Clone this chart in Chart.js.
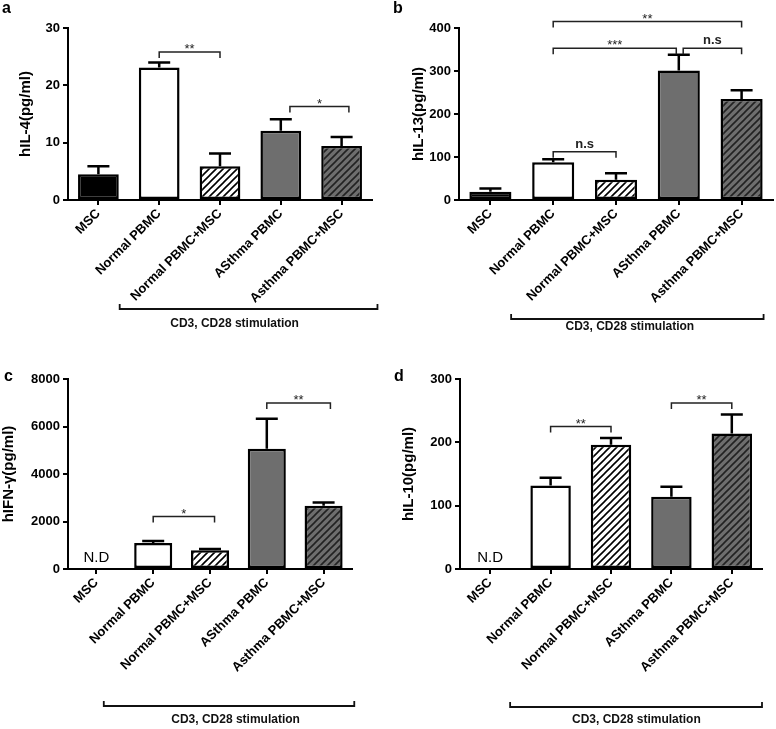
<!DOCTYPE html>
<html>
<head>
<meta charset="utf-8">
<script src="https://cdn.jsdelivr.net/npm/chart.js@4.4.1/dist/chart.umd.min.js"></script>
<style>
  body { margin: 0; background: #fff; width: 776px; height: 729px; position: relative; overflow: hidden; }
  canvas { position: absolute; }
</style>
</head>
<body>
<canvas id="chartA" width="388" height="368" style="left:0;top:0"></canvas>
<canvas id="chartB" width="388" height="368" style="left:388px;top:0"></canvas>
<canvas id="chartC" width="388" height="361" style="left:0;top:368px"></canvas>
<canvas id="chartD" width="388" height="361" style="left:388px;top:368px"></canvas>
<script>
// groups on the x axis
const categories = ['MSC', 'Normal PBMC', 'Normal PBMC+MSC', 'ASthma PBMC', 'Asthma PBMC+MSC'];

// mean values (null = not detected)
const il4Values  = [4.5, 23.1, 5.9, 12.1, 9.4];
const il13Values = [19, 88, 47, 301, 235];
const ifnValues  = [null, 1100, 790, 5060, 2660];
const il10Values = [null, 132, 196, 114, 214];

// upper error (SEM)
const il4Err  = [1.4, 0.9, 2.2, 2.0, 1.6];
const il13Err = [8, 7, 15, 37, 20];
const ifnErr  = [null, 80, 55, 1265, 140];
const il10Err = [null, 12, 11, 16, 30];

// y axis ticks: min, max, step
const il4Ticks  = [0, 30, 10];
const il13Ticks = [0, 400, 100];
const ifnTicks  = [0, 8000, 2000];
const il10Ticks = [0, 300, 100];

// significance brackets: [from group, to group, y value, label]
const il4Sig  = [[1, 2, 25.8, '**'], [3.15, 4.12, 16.3, '*']];
const il13Sig = [[1, 4, 415, '**'], [1, 2.96, 353, '***'], [3.07, 4, 353, 'n.s'], [1, 2, 112, 'n.s']];
const ifnSig  = [[1, 2.08, 2206, '*'], [3, 4.12, 6988, '**']];
const il10Sig = [[1, 2, 225, '**'], [3, 4, 262, '**']];

const FONT = "'Liberation Sans', Arial, sans-serif";
Chart.defaults.font.family = FONT;
Chart.defaults.color = '#000';

function makeHatch(bg, line) {
    const c = document.createElement('canvas');
    c.width = 7; c.height = 7;
    const g = c.getContext('2d');
    g.fillStyle = bg;
    g.fillRect(0, 0, 7, 7);
    g.strokeStyle = line;
    g.lineWidth = 1.6;
    g.beginPath();
    g.moveTo(-1, 8); g.lineTo(8, -1);
    g.moveTo(-1, 1); g.lineTo(1, -1);
    g.moveTo(6, 8); g.lineTo(8, 6);
    g.stroke();
    return g.createPattern(c, 'repeat');
}

const fills = ['#000000', '#ffffff', makeHatch('#ffffff', '#000000'), '#6e6e6e', makeHatch('#6e6e6e', '#222222')];

// draws error bars, brackets, N.D and panel letter
function makeExtras(p) {
    return {
        id: 'extras',
        afterDatasetsDraw(chart) {
            const ctx = chart.ctx;
            const meta = chart.getDatasetMeta(0);
            const y = chart.scales.y;
            const data = chart.data.datasets[0].data;
            ctx.save();
            ctx.strokeStyle = '#000';
            ctx.lineWidth = 2.5;
            p.errors.forEach((e, i) => {
                if (data[i] == null || e == null) return;
                const bar = meta.data[i];
                const top = y.getPixelForValue(data[i] + e);
                ctx.beginPath();
                ctx.moveTo(bar.x, bar.y);
                ctx.lineTo(bar.x, top);
                ctx.moveTo(bar.x - 11, top);
                ctx.lineTo(bar.x + 11, top);
                ctx.stroke();
            });
            ctx.restore();
        },
        afterDraw(chart) {
            const ctx = chart.ctx;
            const x = chart.scales.x;
            const y = chart.scales.y;
            const area = chart.chartArea;
            ctx.save();

            // significance brackets
            ctx.strokeStyle = '#222';
            ctx.lineWidth = 1.5;
            ctx.fillStyle = '#222';
            ctx.textAlign = 'center';
            ctx.textBaseline = 'alphabetic';
            p.sig.forEach(s => {
                const x1 = x.getPixelForValue(s[0]);
                const x2 = x.getPixelForValue(s[1]);
                const py = y.getPixelForValue(s[2]);
                ctx.beginPath();
                ctx.moveTo(x1, py + 6);
                ctx.lineTo(x1, py);
                ctx.lineTo(x2, py);
                ctx.lineTo(x2, py + 6);
                ctx.stroke();
                if (s[3].indexOf('*') >= 0) {
                    ctx.font = '13px ' + FONT;
                    ctx.fillText(s[3], (x1 + x2) / 2, py + 1);
                } else {
                    ctx.font = 'bold 13px ' + FONT;
                    ctx.fillText(s[3], (x1 + x2) / 2, py - 4);
                }
            });

            // stimulation bracket
            const st = p.stim;
            const sx1 = x.getPixelForValue(st.from);
            const sx2 = x.getPixelForValue(st.to);
            const sy = area.bottom + st.dy;
            ctx.strokeStyle = '#111';
            ctx.lineWidth = 1.8;
            ctx.beginPath();
            ctx.moveTo(sx1, sy - 5);
            ctx.lineTo(sx1, sy);
            ctx.lineTo(sx2, sy);
            ctx.lineTo(sx2, sy - 5);
            ctx.stroke();
            ctx.fillStyle = '#111';
            ctx.font = 'bold 12px ' + FONT;
            ctx.textBaseline = 'middle';
            ctx.fillText('CD3, CD28 stimulation', x.getPixelForValue(st.textX), area.bottom + st.textDy);

            // not detected
            if (p.nd) {
                ctx.font = '15px ' + FONT;
                ctx.textBaseline = 'alphabetic';
                ctx.fillStyle = '#000';
                ctx.fillText('N.D', x.getPixelForValue(0), area.bottom - 7);
            }

            // panel letter
            ctx.font = 'bold 16px ' + FONT;
            ctx.textAlign = 'left';
            ctx.textBaseline = 'alphabetic';
            ctx.fillStyle = '#000';
            ctx.fillText(p.letter, p.letterX, 13);
            ctx.restore();
        }
    };
}

function drawPanel(p) {
    const ctx = document.getElementById(p.canvas).getContext('2d');
    return new Chart(ctx, {
        type: 'bar',
        data: {
            labels: categories,
            datasets: [{
                data: p.values,
                backgroundColor: fills,
                borderColor: '#000',
                borderWidth: 2.5,
                borderSkipped: false,
                categoryPercentage: 1,
                barPercentage: 0.67
            }]
        },
        options: {
            responsive: false,
            animation: false,
            layout: { padding: { left: 0, top: p.top, right: p.right, bottom: 0 } },
            plugins: { legend: { display: false }, tooltip: { enabled: false } },
            scales: {
                x: {
                    offset: true,
                    grid: { offset: false, drawOnChartArea: false, tickLength: 5, color: '#000', lineWidth: 2 },
                    border: { color: '#000', width: 2 },
                    ticks: {
                        autoSkip: false, minRotation: 45, maxRotation: 45, padding: 1,
                        color: '#000', font: { size: 13, weight: 'bold' }
                    },
                    afterFit: s => { s.height = p.xHeight; }
                },
                y: {
                    min: p.ticks[0],
                    max: p.ticks[1],
                    grid: { drawOnChartArea: false, tickLength: 5, color: '#000', lineWidth: 2 },
                    border: { color: '#000', width: 2 },
                    ticks: {
                        stepSize: p.ticks[2], padding: 3, color: '#000',
                        font: { size: 13, weight: 'bold' },
                        callback: v => String(v)
                    },
                    title: {
                        display: true, text: p.title, color: '#000',
                        font: { size: 15, weight: 'bold' },
                        padding: { top: p.titlePad, bottom: 0 }
                    },
                    afterFit: s => { s.width = p.yWidth; }
                }
            }
        },
        plugins: [makeExtras(p)]
    });
}

drawPanel({
    canvas: 'chartA', letter: 'a', letterX: 2, values: il4Values, errors: il4Err, ticks: il4Ticks,
    sig: il4Sig, title: 'hIL-4(pg/ml)', titlePad: 17, yWidth: 68, top: 28, right: 16, xHeight: 168,
    stim: { from: 0.35, to: 4.59, dy: 109, textX: 2.24, textDy: 124 }, nd: false
});
drawPanel({
    canvas: 'chartB', letter: 'b', letterX: 5, values: il13Values, errors: il13Err, ticks: il13Ticks,
    sig: il13Sig, title: 'hIL-13(pg/ml)', titlePad: 22, yWidth: 71, top: 28, right: 3, xHeight: 168,
    stim: { from: 0.33, to: 4.35, dy: 119, textX: 2.22, textDy: 127 }, nd: false
});
drawPanel({
    canvas: 'chartC', letter: 'c', letterX: 4, values: ifnValues, errors: ifnErr, ticks: ifnTicks,
    sig: ifnSig, title: 'hIFN-γ(pg/ml)', titlePad: 0, yWidth: 68, top: 11, right: 36, xHeight: 160,
    stim: { from: 0.13, to: 4.54, dy: 137, textX: 2.45, textDy: 151 }, nd: true
});
drawPanel({
    canvas: 'chartD', letter: 'd', letterX: 6, values: il10Values, errors: il10Err, ticks: il10Ticks,
    sig: il10Sig, title: 'hIL-10(pg/ml)', titlePad: 12, yWidth: 72, top: 11, right: 14, xHeight: 160,
    stim: { from: 0.33, to: 4.5, dy: 138, textX: 2.42, textDy: 151 }, nd: true
});
</script>
</body>
</html>
